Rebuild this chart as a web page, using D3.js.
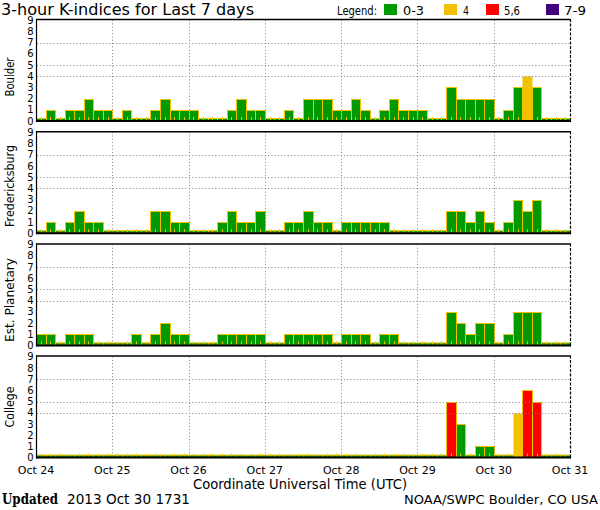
<!DOCTYPE html>
<html><head><meta charset="utf-8">
<script src="https://cdn.jsdelivr.net/npm/d3@7"></script>
<style>
body{margin:0;background:#fff}
svg{display:block}
text{font-family:"DejaVu Sans",sans-serif;fill:#000}
</style>
</head><body>
<svg id="c" width="600" height="510"></svg>
<script>
// ---- data ----
const stations = ["Boulder", "Fredericksburg", "Est. Planetary", "College"];
const boulder = [0,1,0,1,1,2,1,1, 0,1,0,0,1,2,1,1, 1,0,0,0,1,2,1,1, 0,0,1,0,2,2,2,1,
                 1,2,1,0,1,2,1,1, 1,0,0,3,2,2,2,2, 0,1,3,4,3,0,0,0];
const fredericksburg = [0,1,0,1,2,1,1,0, 0,0,0,0,2,2,1,1, 0,0,0,1,2,1,1,2, 0,0,1,1,2,1,1,0,
                        1,1,1,1,1,0,0,0, 0,0,0,2,2,1,2,1, 0,1,3,2,3,0,0,0];
const estPlanetary = [1,1,0,1,1,1,0,0, 0,0,1,0,1,2,1,1, 0,0,0,1,1,1,1,1, 0,0,1,1,1,1,1,0,
                      1,1,1,0,1,1,0,0, 0,0,0,3,2,1,2,2, 0,1,3,3,3,0,0,0];
const college = [0,0,0,0,0,0,0,0, 0,0,0,0,0,0,0,0, 0,0,0,0,0,0,0,0, 0,0,0,0,0,0,0,0,
                 0,0,0,0,0,0,0,0, 0,0,0,5,3,0,1,1, 0,0,4,6,5,0,0,0];
const dayLabels = ["Oct 24", "Oct 25", "Oct 26", "Oct 27", "Oct 28", "Oct 29", "Oct 30", "Oct 31"];
const yTicks = [0,1,2,3,4,5,6,7,8,9];
const gridLevels = [4,5,7];
const legendLabels = ["0-3", "4", "5,6", "7-9"];
const legendColors = ["#009900", "#f2c200", "#ff0000", "#400080"];
const titleText = "3-hour K-indices for Last 7 days";
const xTitle = "Coordinate Universal Time (UTC)";
const updatedDate = "2013 Oct 30 1731";
const credit = "NOAA/SWPC Boulder, CO USA";

const series = [boulder, fredericksburg, estPlanetary, college];

// ---- layout ----
const svg = d3.select("#c");
const t0 = new Date(Date.UTC(2013, 9, 24));
const t1 = new Date(Date.UTC(2013, 9, 31));
const x = d3.scaleUtc().domain([t0, t1]).range([36, 570]);
const zeroY = [121, 233.2, 345.4, 457.6];
const unit = 11.2;
const panelH = 102;
const labelCenters = [77, 186, 300, 407];
const labelLens = [39, 82, 84, 41];
const borderColor = "#f2c200";

function color(v) {
  if (v <= 3) return legendColors[0];
  if (v === 4) return legendColors[1];
  if (v <= 6) return legendColors[2];
  return legendColors[3];
}

const days = d3.utcDay.range(t0, d3.utcDay.offset(t1, 1));

series.forEach((vals, p) => {
  const Z = zeroY[p];
  const top = Z - panelH;
  const y = d3.scaleLinear().domain([0, 9]).range([Z, Z - 9 * unit]);
  const g = svg.append("g");
  const times = vals.map((v, i) => d3.utcHour.offset(t0, 3 * i));

  // bars
  g.selectAll("rect.bar").data(vals).join("rect")
    .attr("class", "bar")
    .attr("x", (v, i) => Math.round(x(times[i])) + 0.5)
    .attr("width", (v, i) => Math.round(x(d3.utcHour.offset(times[i], 3))) - Math.round(x(times[i])))
    .attr("y", v => v === 0 ? Z - 2.5 : Math.round(y(v)) + 0.5)
    .attr("height", v => v === 0 ? 2.5 : Z - Math.round(y(v)) - 0.5)
    .attr("fill", color)
    .attr("stroke", v => v === 4 ? "none" : borderColor)
    .attr("stroke-width", 1);

  // small yellow ticks at bar centres
  g.selectAll("line.mt").data(vals).join("line")
    .attr("class", "mt")
    .attr("x1", (v, i) => Math.round(x(d3.utcMinute.offset(times[i], 90))) + 0.5)
    .attr("x2", (v, i) => Math.round(x(d3.utcMinute.offset(times[i], 90))) + 0.5)
    .attr("y1", Z - 4).attr("y2", Z - 1)
    .attr("stroke", borderColor).attr("stroke-width", 1);

  // horizontal grid
  g.selectAll("line.hg").data(gridLevels).join("line")
    .attr("class", "hg")
    .attr("x1", 37).attr("x2", 569)
    .attr("y1", d => Math.round(y(d)) + 0.5).attr("y2", d => Math.round(y(d)) + 0.5)
    .attr("stroke", "#808080").attr("stroke-width", 1).attr("stroke-dasharray", "1,2.3");

  // vertical grid
  g.selectAll("line.vg").data(days.slice(1, -1)).join("line")
    .attr("class", "vg")
    .attr("x1", d => Math.round(x(d)) + 0.5).attr("x2", d => Math.round(x(d)) + 0.5)
    .attr("y1", top + 1).attr("y2", Z - 1)
    .attr("stroke", "#808080").attr("stroke-width", 1).attr("stroke-dasharray", "1,2.3");

  // frame
  g.append("line").attr("x1", 36).attr("x2", 570.5).attr("y1", top + 0.5).attr("y2", top + 0.5)
    .attr("stroke", "#000").attr("stroke-width", 1.5);
  g.append("line").attr("x1", 36.5).attr("x2", 36.5).attr("y1", top).attr("y2", Z + 1)
    .attr("stroke", "#000").attr("stroke-width", 1.2);
  g.append("line").attr("x1", 570.5).attr("x2", 570.5).attr("y1", top).attr("y2", Z + 1)
    .attr("stroke", "#000").attr("stroke-width", 1.2).attr("stroke-dasharray", "3,1.5");
  g.append("line").attr("x1", 36).attr("x2", 571).attr("y1", Z).attr("y2", Z)
    .attr("stroke", "#000").attr("stroke-width", 2);

  // y tick labels
  g.selectAll("text.yt").data(yTicks).join("text")
    .attr("class", "yt")
    .attr("x", 33.5).attr("y", d => y(d) + 3.5)
    .attr("text-anchor", "end").attr("font-size", 10)
    .text(d => d);

  // station label
  g.append("text")
    .attr("transform", `translate(13.5,${labelCenters[p]}) rotate(-90)`)
    .attr("text-anchor", "middle").attr("font-size", 12.5)
    .attr("textLength", labelLens[p]).attr("lengthAdjust", "spacingAndGlyphs")
    .text(stations[p]);
});

// x axis labels under the last panel
svg.selectAll("text.xl").data(days).join("text")
  .attr("class", "xl")
  .attr("x", (d) => x(d)).attr("y", 474)
  .attr("text-anchor", "middle").attr("font-size", 11)
  .text((d, i) => dayLabels[i]);

svg.append("text").attr("x", 300).attr("y", 489).attr("text-anchor", "middle")
  .attr("font-size", 13.5).attr("textLength", 214).attr("lengthAdjust", "spacingAndGlyphs")
  .text(xTitle);

// title
svg.append("text").attr("x", 1).attr("y", 15).attr("font-size", 16)
  .attr("textLength", 253).attr("lengthAdjust", "spacingAndGlyphs").text(titleText);

// legend
svg.append("text").attr("x", 337).attr("y", 15).attr("font-size", 12.5)
  .attr("textLength", 40).attr("lengthAdjust", "spacingAndGlyphs").text("Legend:");
const legX = [384, 444, 486, 546];
const legTX = [403, 463, 504, 564];
const legTL = [21, 6, 16, 22];
svg.selectAll("rect.lg").data(legendColors).join("rect")
  .attr("class", "lg").attr("x", (d, i) => legX[i]).attr("y", 4)
  .attr("width", 13).attr("height", 11).attr("fill", d => d);
svg.selectAll("text.lg").data(legendLabels).join("text")
  .attr("class", "lg").attr("x", (d, i) => legTX[i]).attr("y", 15)
  .attr("font-size", 13).attr("textLength", (d, i) => legTL[i]).attr("lengthAdjust", "spacingAndGlyphs")
  .text(d => d);

// footer
svg.append("text").attr("x", 2).attr("y", 503.5)
  .style("font-family", "'DejaVu Serif',serif").attr("font-weight", "bold").attr("font-size", 14)
  .attr("textLength", 56).attr("lengthAdjust", "spacingAndGlyphs").text("Updated");
svg.append("text").attr("x", 67).attr("y", 504).attr("font-size", 14)
  .attr("textLength", 123).attr("lengthAdjust", "spacingAndGlyphs").text(updatedDate);
svg.append("text").attr("x", 404).attr("y", 503.5).attr("font-size", 13)
  .attr("textLength", 194).attr("lengthAdjust", "spacingAndGlyphs").text(credit);
</script>
</body></html>
